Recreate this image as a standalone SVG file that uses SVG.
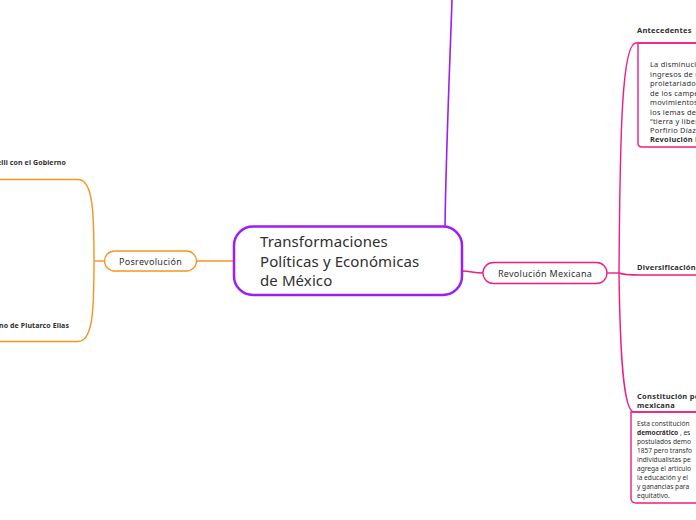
<svg xmlns="http://www.w3.org/2000/svg" width="696" height="520" viewBox="0 0 696 520">
<style>
  .t{font-family:"Noto Sans","Open Sans","DejaVu Sans",sans-serif;fill:#2f2f2f}
  .c{font-size:15px;letter-spacing:0.1px}
  .n{font-size:9px;letter-spacing:0.3px}
  .h{font-size:7.5px;font-weight:bold;letter-spacing:0.25px}
  .b{font-size:6.6px}
  .a{font-size:7.4px;letter-spacing:0.25px}
  .bb{font-weight:bold}
  .o{stroke:#f7931e;fill:none;stroke-width:1.4}
  .p{stroke:#f01c82;fill:none;stroke-width:1.4}
  .v{stroke:#9a1ef5;fill:none;stroke-width:1.6}
</style>
<rect width="696" height="520" fill="#ffffff"/>
<g id="connectors">
  <path class="v" d="M445,227 C446,150 450,60 452,0"/>
  <path class="o" d="M197,261 L234,261"/>
  <path class="o" d="M104,261 L94,261"/>
  <path class="o" d="M94,261 C94,212 93,179.5 78,179.5 L0,179.5"/>
  <path class="o" d="M94,261 C94,310 93,341.5 78,341.5 L0,341.5"/>
  <path class="p" d="M462,271 C470,271 474,273 483,273"/>
  <path class="p" d="M607,273 L619,273"/>
  <path class="p" d="M619,273 C620,130 622,43 636,43 L696,43"/>
  <path class="p" d="M619,273 C624,275 628,275 640,275 L696,275"/>
  <path class="p" d="M619,273 C620,350 623,412 634,412 L696,412"/>
  <path class="p" d="M696,43 L638,43 L638,143 Q638,147 642,147 L696,147"/>
  <path class="p" d="M696,412 L631,412 L631,498 Q631,503 636,503 L696,503"/>
</g>
<g id="central">
  <rect x="234" y="226.5" width="228" height="68.5" rx="19" fill="#fff" stroke="#9a1ef5" stroke-width="2.5"/>
  <text class="t c" x="260" y="247">Transformaciones</text>
  <text class="t c" x="260" y="266.5">Políticas y Económicas</text>
  <text class="t c" x="260" y="286">de México</text>
</g>
<g id="posrevolucion">
  <rect x="104.5" y="251" width="92" height="20" rx="10" fill="#fff" stroke="#f7931e" stroke-width="1.3"/>
  <text class="t n" x="150.5" y="264.5" text-anchor="middle">Posrevolución</text>
</g>
<g id="posrev-gobierno">
  <text class="t h" x="66" y="165" text-anchor="end" style="font-size:7px;letter-spacing:0.1px">elli  con el Gobierno</text>
</g>
<g id="posrev-plutarco">
  <text class="t h" x="69" y="328" text-anchor="end" style="font-size:7px;letter-spacing:0.1px">ano de Plutarco Elias</text>
</g>
<g id="revolucion">
  <rect x="483" y="262.5" width="124" height="21" rx="10.5" fill="#fff" stroke="#f01c82" stroke-width="1.3"/>
  <text class="t n" x="545" y="276.5" text-anchor="middle">Revolución Mexicana</text>
</g>
<g id="antecedentes">
  <text class="t h" x="637" y="33">Antecedentes</text>
  <text class="t a" x="650" y="67">La disminuci</text>
  <text class="t a" x="650" y="76.5">ingresos de u</text>
  <text class="t a" x="650" y="86">proletariado</text>
  <text class="t a" x="650" y="95.5">de los campe</text>
  <text class="t a" x="650" y="105">movimientos</text>
  <text class="t a" x="650" y="114.5">los lemas de</text>
  <text class="t a" x="650" y="124">“tierra y liber</text>
  <text class="t a" x="650" y="133">Porfirio Díaz</text>
  <text class="t a bb" x="650" y="142">Revolución M</text>
</g>
<g id="diversificacion">
  <text class="t h" x="637" y="270">Diversificación</text>
</g>
<g id="constitucion">
  <text class="t h" x="637" y="398.5">Constitución pol</text>
  <text class="t h" x="637" y="407.5">mexicana</text>
  <text class="t b" x="637" y="425.5">Esta constitución</text>
  <text class="t b" x="637" y="434.5"><tspan class="bb">democrático</tspan> , es</text>
  <text class="t b" x="637" y="443.5">postulados  demo</text>
  <text class="t b" x="637" y="452.5">1857 pero transfo</text>
  <text class="t b" x="637" y="461.5">individualistas  pe</text>
  <text class="t b" x="637" y="470.5">agrega el artículo</text>
  <text class="t b" x="637" y="479.5">la educación  y el</text>
  <text class="t b" x="637" y="488.5">y ganancias para</text>
  <text class="t b" x="637" y="497.5">equitativo.</text>
</g>
</svg>
